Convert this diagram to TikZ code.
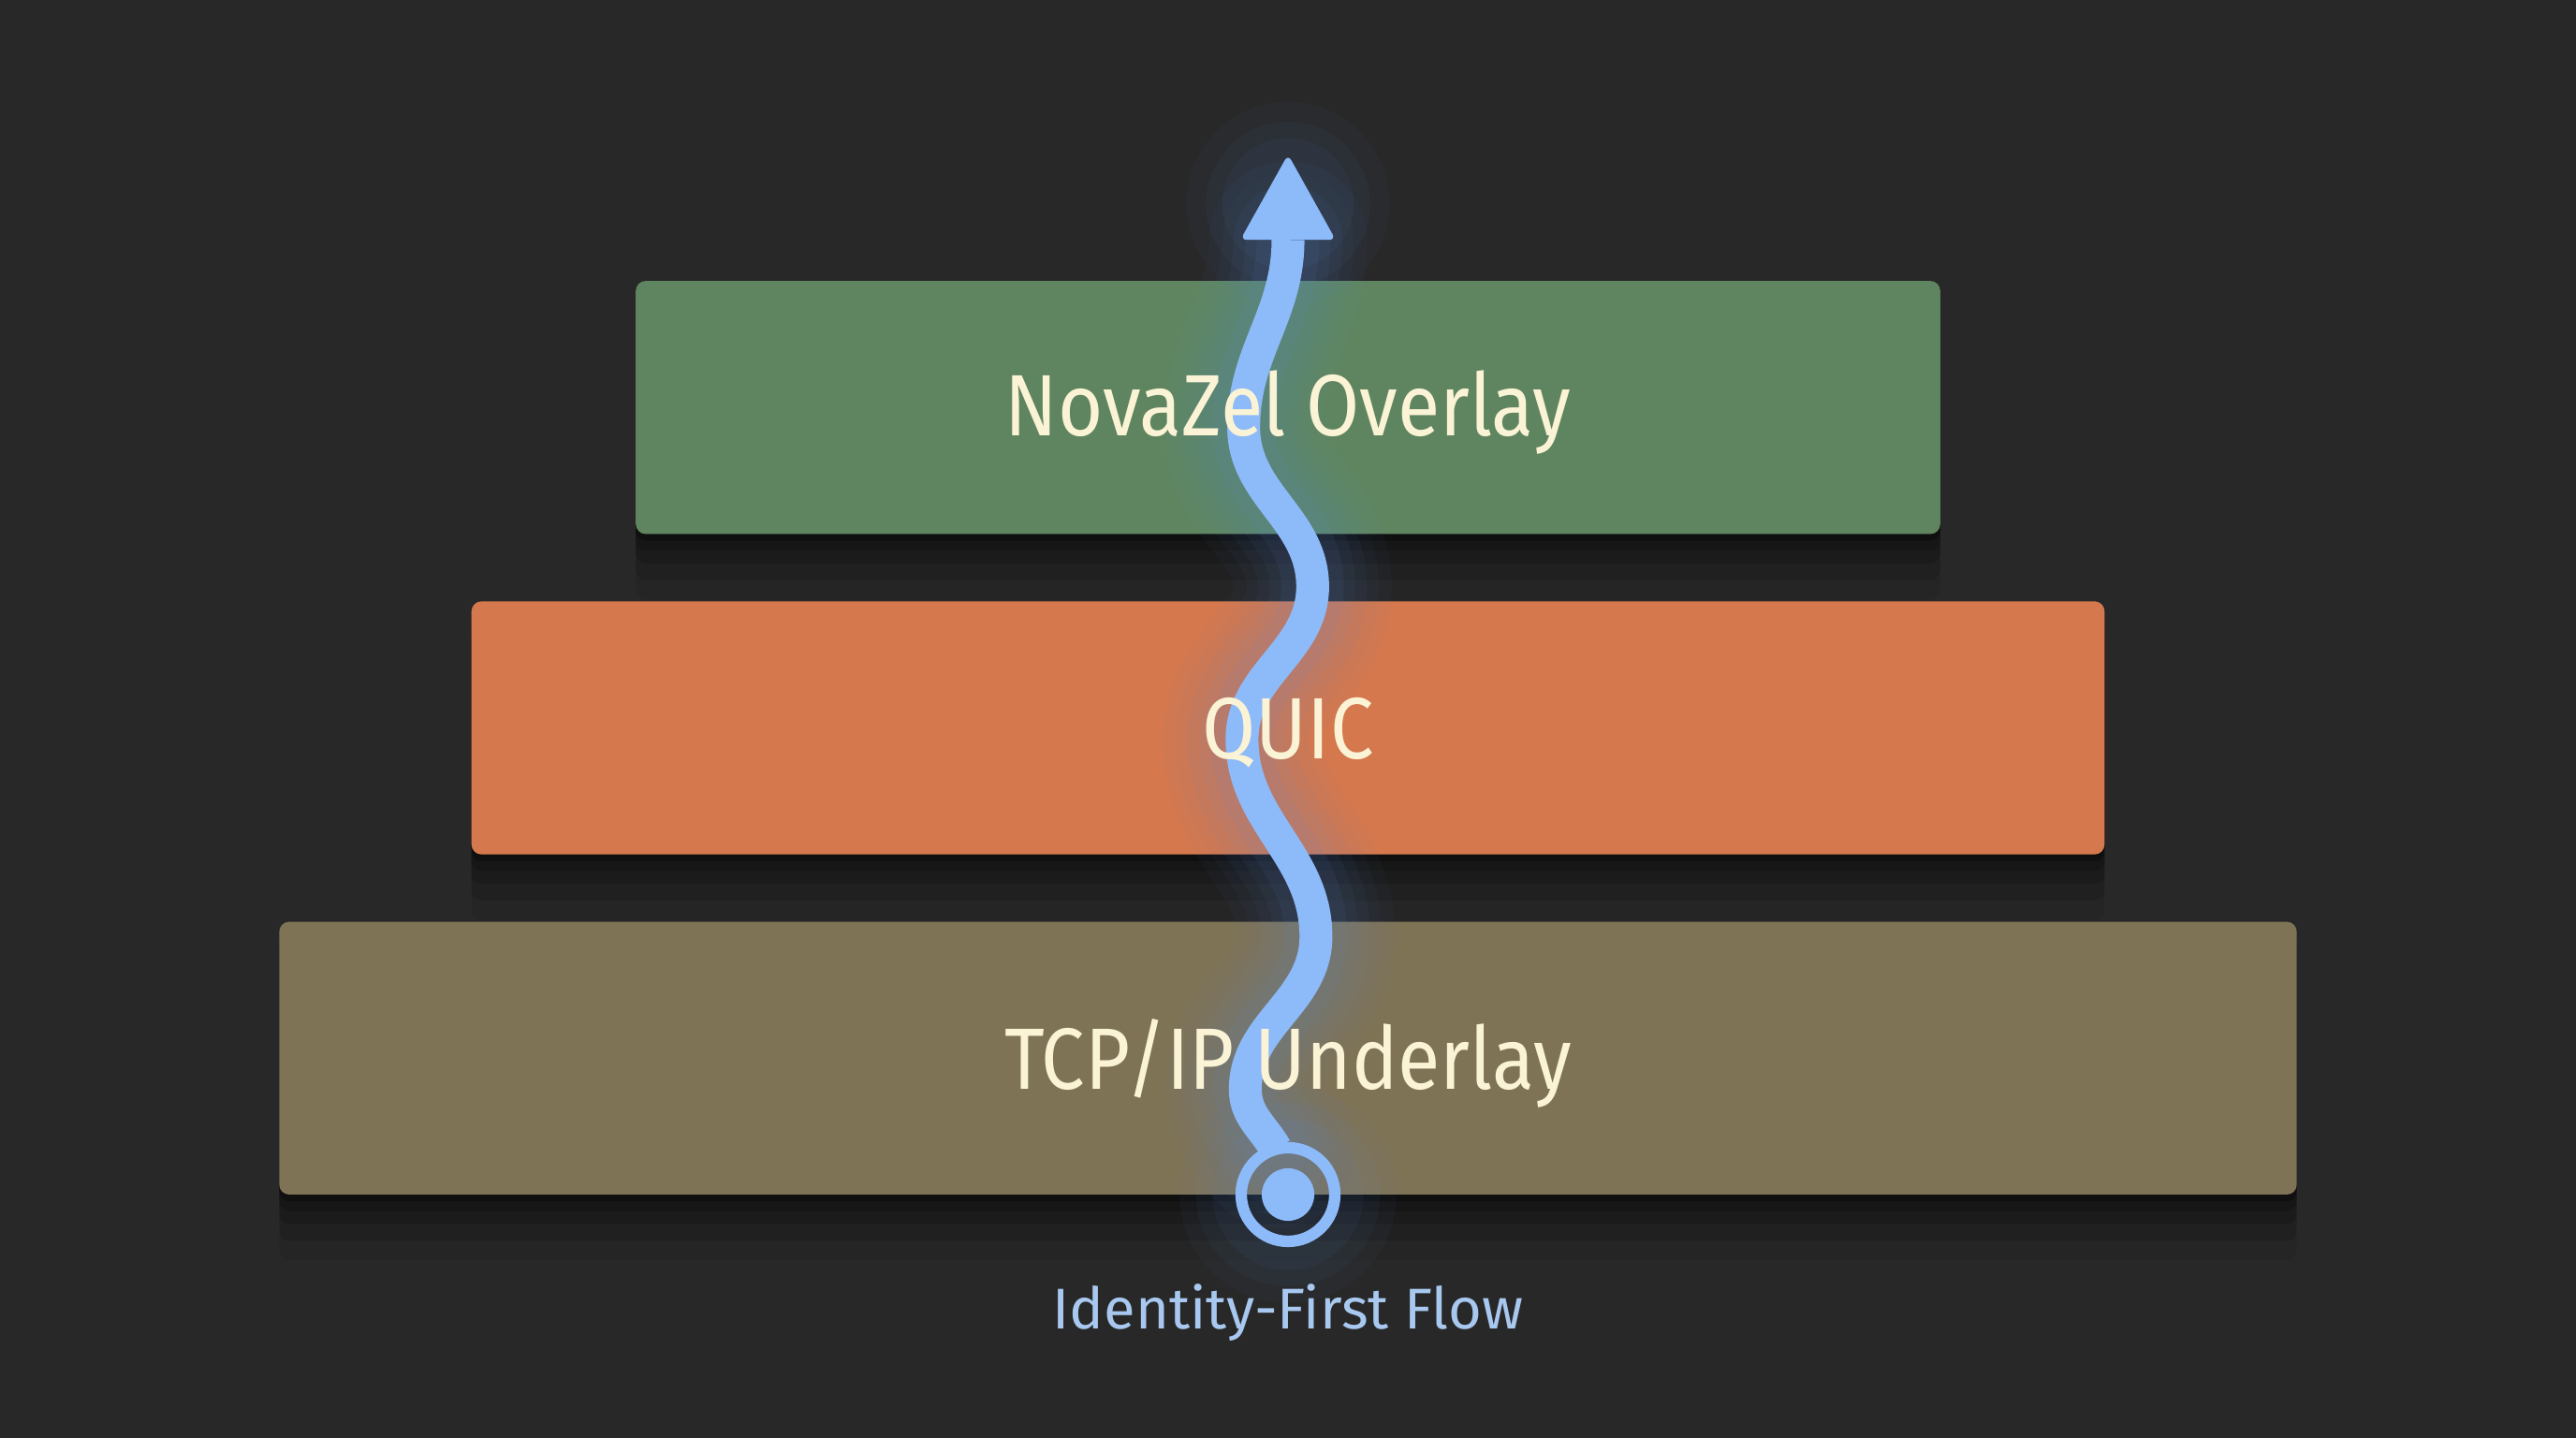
\documentclass[tikz,border=0pt]{standalone}
\usepackage{fontspec}
\setmainfont{Fira Sans}
\newfontfamily\layerfont[FakeStretch=0.89]{Fira Sans}
\usepackage{tikz}
\definecolor{bg}{HTML}{282828}
\definecolor{overlaygreen}{HTML}{5F8560}
\definecolor{quicorange}{HTML}{D5784D}
\definecolor{underlaybrown}{HTML}{7F7356}
\definecolor{flow}{HTML}{8DBAF8}
\definecolor{glow}{HTML}{5A8CD6}
\definecolor{cream}{HTML}{FBF3D5}
\definecolor{flowlabel}{HTML}{A8C8F0}

\begin{document}
\begin{tikzpicture}[x=1pt,y=1pt,
  layer/.style={rounded corners=6,inner sep=0,minimum height=154,
    preaction={fill=black,opacity=.25,transform canvas={yshift=-4}},
    preaction={fill=black,opacity=.2,transform canvas={yshift=-10}},
    preaction={fill=black,opacity=.15,transform canvas={yshift=-18}},
    preaction={fill=black,opacity=.1,transform canvas={yshift=-28}},
    preaction={fill=black,opacity=.07,transform canvas={yshift=-40}}},
  layertext/.style={text=cream,font=\layerfont\fontsize{53}{60}\selectfont,yshift=-3},
  wave/.style={out=90,in=-90,looseness=1},
  flowline/.style={flow,line width=20}]
% background
\fill[bg] (0,0) rectangle (1568,875);
\useasboundingbox (0,0) rectangle (1568,875);
% layers
\node[layer,fill=overlaygreen,minimum width=794] (overlay) at (784,627) {};
\node[layer,fill=quicorange,minimum width=994] (quic) at (784,432) {};
\node[layer,fill=underlaybrown,minimum width=1228,minimum height=166] (underlay) at (784,231) {};
% flow
\node[circle,minimum size=57,inner sep=0] (ring) at (784,148) {};
\coordinate (w1) at (758,212);
\coordinate (w2) at (801,305);
\coordinate (w3) at (756,425);
\coordinate (w4) at (799,518);
\coordinate (w5) at (757,615);
\coordinate (head) at (784,729);
\coordinate (tip) at (784,781);
\foreach \w/\o in {96/.035,80/.04,66/.05,52/.06,38/.08}
  \draw[glow,line width=\w,opacity=\o,line cap=round]
    (ring.105) to[out=120,in=-90] (w1) to[wave] (w2) to[wave] (w3) to[wave] (w4) to[wave] (w5) to[wave] (head);
\foreach \r/\o in {66/.04,56/.05,46/.06}
  \fill[glow,opacity=\o] (ring) circle (\r);
\foreach \r/\o in {62/.04,50/.05,40/.06}
  \fill[glow,opacity=\o] ([yshift=22pt]head) circle (\r);
\draw[flowline] (ring.105) to[out=120,in=-90] (w1) to[wave] (w2) to[wave] (w3) to[wave] (w4) to[wave] (w5) to[wave] (head);
\fill[flow,rounded corners=4] ([xshift=-29pt]head) -- (tip) -- ([xshift=29pt]head) -- cycle;
\draw[flow,line width=7] (ring) circle (28.5);
\fill[flow] (ring) circle (16);
% labels
\node[layertext] (overlay-label) at (overlay) {NovaZel Overlay};
\node[layertext] (quic-label) at (quic) {QUIC};
\node[layertext] (underlay-label) at (underlay) {TCP/IP Underlay};
\node[text=flowlabel,font=\fontsize{35}{40}\selectfont] (flow-label) at (784,76) {Identity-First Flow};
\end{tikzpicture}
\end{document}
